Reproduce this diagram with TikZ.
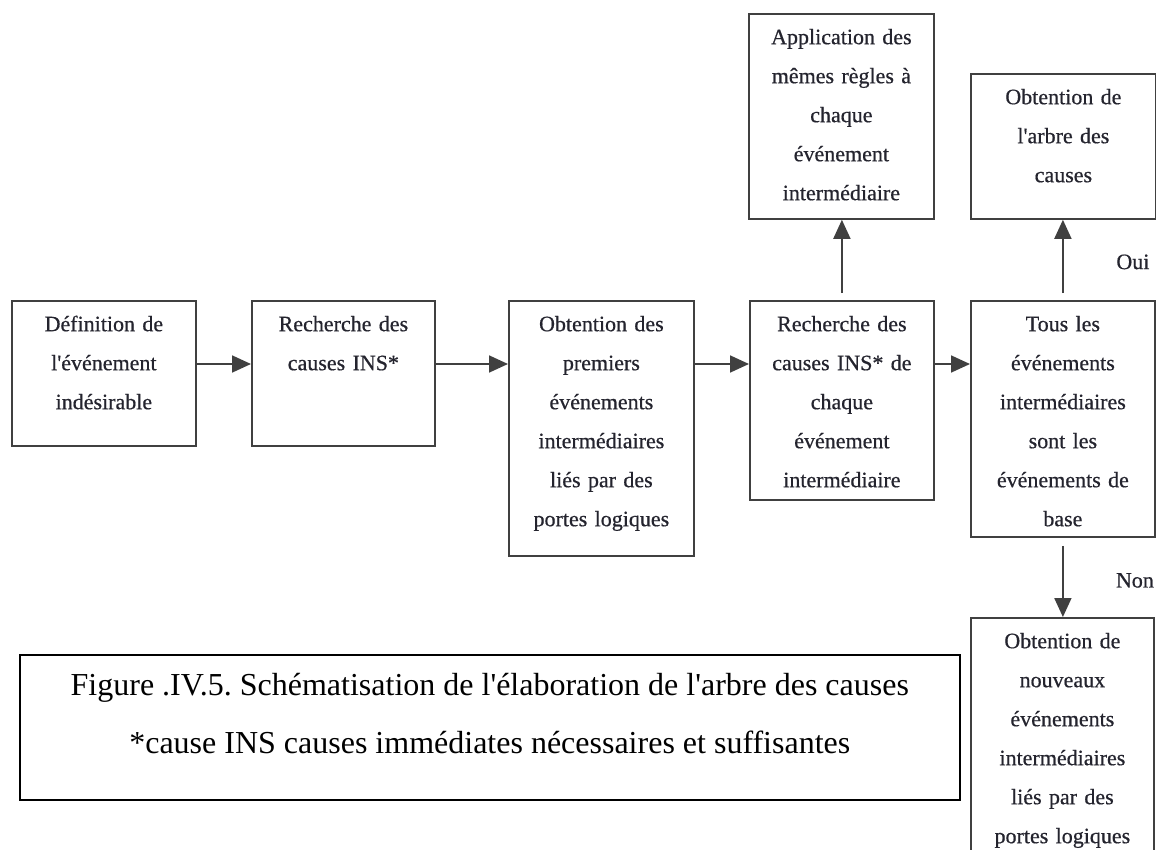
\documentclass[tikz,border=0pt]{standalone}
\usepackage{fontspec}
\setmainfont{Liberation Serif}
\newfontfamily\boxfont[FakeBold=0.6]{Liberation Serif}
\usetikzlibrary{arrows.meta}
\definecolor{edge}{HTML}{404040}
\definecolor{ink}{HTML}{24242e}
\newcommand{\flowbox}[5]{%
  \node[box, minimum width=#4pt, minimum height=#5pt, anchor=north west] (#1) at (#2,#3) {};}
\newcommand{\apos}{\textquotesingle}
\frenchspacing
\begin{document}
\begin{tikzpicture}[x=1pt,y=-1pt,
  box/.style={draw=edge, line width=1.8pt, inner sep=0pt},
  txt/.style={inner sep=0pt, text width=182pt, align=center, anchor=north, text=ink,
    font=\boxfont\fontsize{22}{39}\selectfont},
  arr/.style={draw=edge, line width=1.8pt, -{Triangle[length=19pt,width=17pt]}},
  lbl/.style={inner sep=0pt, text=ink, font=\boxfont\fontsize{22}{26}\selectfont},
  capbox/.style={draw=black, line width=1.6pt, inner sep=0pt},
  captxt/.style={inner sep=0pt, anchor=base, text=black, font=\fontsize{32}{36}\selectfont}]
\useasboundingbox (0,0) rectangle (1156,850);
\clip (0,0) rectangle (1156,850);

% process boxes
\flowbox{b1}{11}{300}{184}{145}
\flowbox{b2}{251}{300}{183}{145}
\flowbox{b3}{508}{300}{185}{255}
\flowbox{b4}{749}{300}{184}{199}
\flowbox{b5}{970}{300}{184}{236}
\flowbox{bA}{748}{13}{185}{205}
\flowbox{bB}{970}{73}{185}{145}
\flowbox{b6}{970}{617}{183}{260}

% box texts
\newcommand{\firstline}{\rule{0pt}{20pt}}
\node[txt] (t1) at ([yshift=-11pt]b1.north) {\firstline Définition de\\l\apos événement\\indésirable};
\node[txt] (t2) at ([yshift=-11pt]b2.north) {\firstline Recherche des\\causes INS*};
\node[txt] (t3) at ([yshift=-11pt]b3.north) {\firstline Obtention des\\premiers\\événements\\intermédiaires\\liés par des\\portes logiques};
\node[txt] (t4) at ([yshift=-11pt]b4.north) {\firstline Recherche des\\causes INS* de\\chaque\\événement\\intermédiaire};
\node[txt] (t5) at ([yshift=-11pt]b5.north) {\firstline Tous les\\événements\\intermédiaires\\sont les\\événements de\\base};
\node[txt] (tA) at ([yshift=-11pt]bA.north) {\firstline Application des\\mêmes règles à\\chaque\\événement\\intermédiaire};
\node[txt] (tB) at ([yshift=-11pt]bB.north) {\firstline Obtention de\\l\apos arbre des\\causes};
\node[txt] (t6) at ([yshift=-11pt]b6.north) {\firstline Obtention de\\nouveaux\\événements\\intermédiaires\\liés par des\\portes logiques};

% horizontal flow
\draw[arr] ([yshift=-64pt]b1.north east) -- ([yshift=-64pt]b2.north west);
\draw[arr] ([yshift=-64pt]b2.north east) -- ([yshift=-64pt]b3.north west);
\draw[arr] ([yshift=-64pt]b3.north east) -- ([yshift=-64pt]b4.north west);
\draw[arr] ([yshift=-64pt]b4.north east) -- ([yshift=-64pt]b5.north west);

% vertical branches
\draw[arr, shorten <=7pt] (b4.north) -- (b4.north |- bA.south);
\draw[arr, shorten <=7pt] (b5.north) -- node[lbl, midway, xshift=70pt, yshift=-2pt] (oui) {Oui} (b5.north |- bB.south);
\draw[arr, shorten <=8pt] (b5.south) -- node[lbl, midway, xshift=72pt, yshift=-3pt] (non) {Non} (b5.south |- b6.north);

% caption
\node[capbox, minimum width=940pt, minimum height=145pt, anchor=north west] (cap) at (19,654) {};
\node[captxt] (c1) at ([yshift=-41pt]cap.north) {Figure .IV.5. Schématisation de l\apos élaboration de l\apos arbre des causes};
\node[captxt] (c2) at ([yshift=-99pt]cap.north) {*cause INS causes immédiates nécessaires et suffisantes};
\end{tikzpicture}
\end{document}
